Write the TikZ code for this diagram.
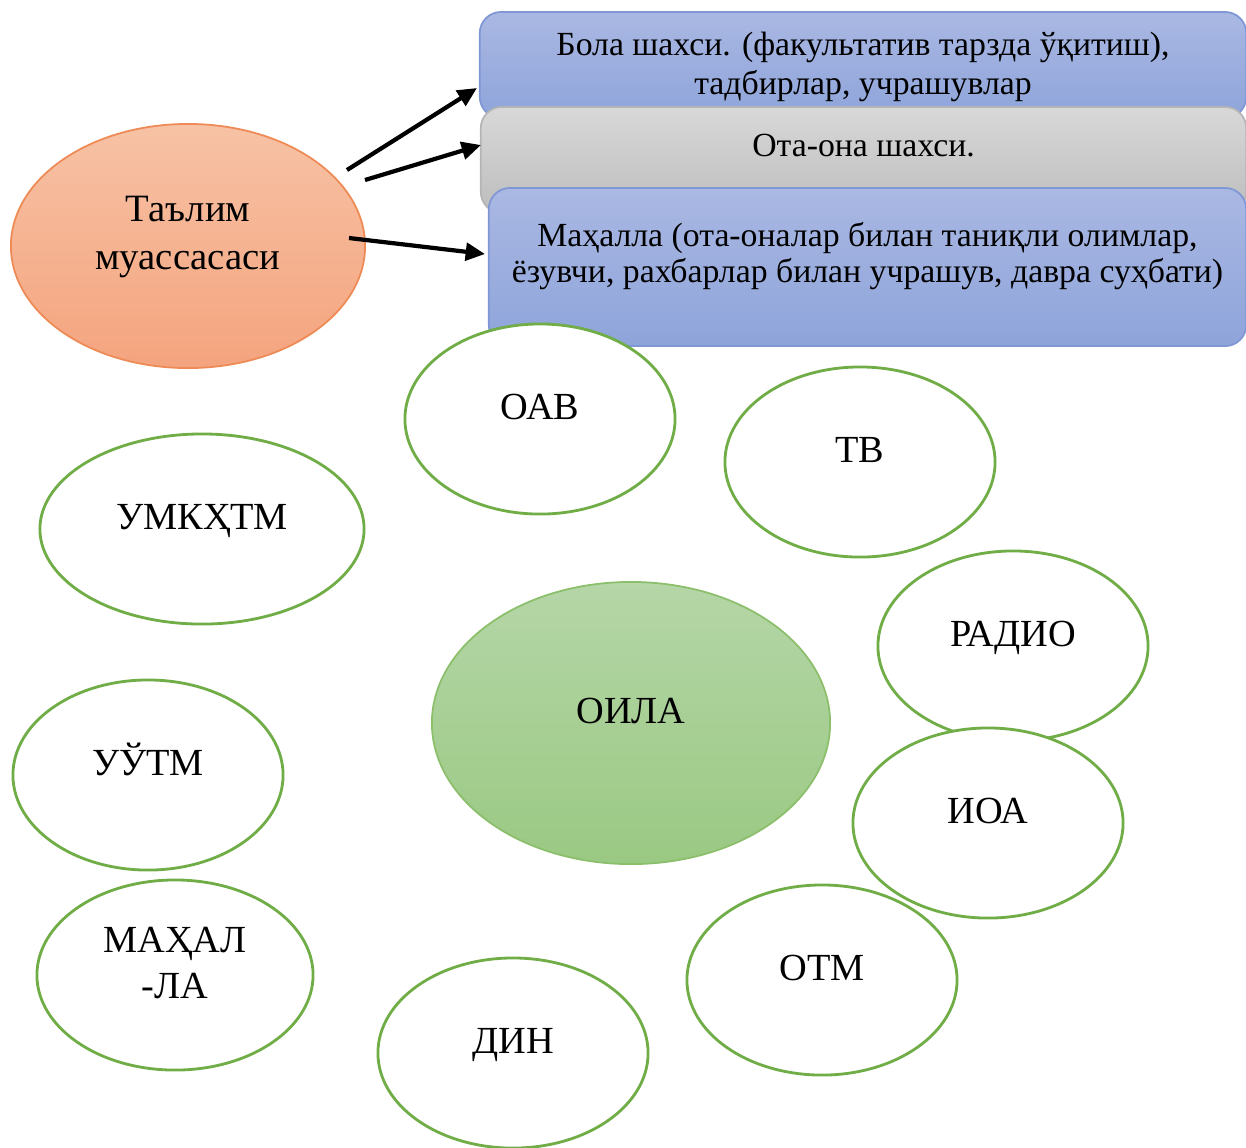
\documentclass[tikz,border=0pt]{standalone}
\usepackage{fontspec}
\setmainfont{Liberation Serif}
\usetikzlibrary{shapes.geometric,arrows.meta}
\definecolor{grn}{HTML}{70AD47}
\definecolor{blueT}{HTML}{AAB8E3}
\definecolor{blueB}{HTML}{8EA4DA}
\definecolor{blueEdge}{HTML}{7F97D4}
\definecolor{grayT}{HTML}{D8D8D8}
\definecolor{grayB}{HTML}{BDBDBD}
\definecolor{grayEdge}{HTML}{B5B5B5}
\definecolor{orT}{HTML}{F7C2A5}
\definecolor{orB}{HTML}{F4A47E}
\definecolor{orEdge}{HTML}{EE8A55}
\definecolor{olT}{HTML}{B5D6A7}
\definecolor{olB}{HTML}{9AC983}
\definecolor{olEdge}{HTML}{8CBF6B}
\newcommand\mylines[2]{\raisebox{#1}[0pt][0pt]{\begin{tabular}[t]{@{}c@{}}#2\end{tabular}}}
\begin{document}
\begin{tikzpicture}[x=0.01cm,y=-0.01cm,
  oval/.style={ellipse, draw=grn, line width=0.8pt, fill=white, inner sep=0pt,
    minimum width=2.7cm, minimum height=1.9cm, font=\fontsize{10.9}{13}\selectfont},
  bluebox/.style={rectangle, rounded corners=6pt, draw=blueEdge, line width=0.5pt,
    top color=blueT, bottom color=blueB, inner sep=0pt},
  graybox/.style={rectangle, rounded corners=6pt, draw=grayEdge, line width=0.5pt,
    top color=grayT, bottom color=grayB, inner sep=0pt},
  arr/.style={line width=1.2pt, -{Triangle[length=5.5pt,width=5pt]}}]
\useasboundingbox (0,0) rectangle (1246,1147);

% boxes
\node[bluebox, minimum width=7.66cm, minimum height=1.06cm,
  font=\fontsize{9.6}{11.2}\selectfont] (b1) at (863,65)
  {\mylines{0.1cm}{Бола шахси. (факультатив тарзда ўқитиш),\\тадбирлар, учрашувлар}};
\node[graybox, minimum width=7.65cm, minimum height=1.06cm,
  font=\fontsize{9.6}{11}\selectfont] (b2) at (863.5,160)
  {\mylines{0.04cm}{Ота-она шахси.}};
\node[bluebox, minimum width=7.57cm, minimum height=1.58cm,
  font=\fontsize{9.6}{10.4}\selectfont] (b3) at (867.5,267)
  {\mylines{0.21cm}{Маҳалла (ота-оналар билан таниқли олимлар,\\ёзувчи, рахбарлар билан учрашув, давра суҳбати)}};

% institution ellipse
\node[ellipse, draw=orEdge, line width=0.5pt, top color=orT, bottom color=orB,
  inner sep=0pt, minimum width=3.54cm, minimum height=2.44cm,
  font=\fontsize{11}{13.7}\selectfont] (tm) at (188,246)
  {\mylines{0.25cm}{Таълим\\муассасаси}};

% arrows
\coordinate (s1) at (347,170);
\coordinate (e1) at (477,88);
\coordinate (s2) at (365,180);
\coordinate (e2) at (481,145);
\coordinate (s3) at (349,238);
\coordinate (e3) at (485,254);
\draw[arr] (s1) -- (e1);
\draw[arr] (s2) -- (e2);
\draw[arr] (s3) -- (e3);

% small ellipses
\node[oval] (oav) at (540,419) {\smash{ОАВ}};
\node[oval] (tv) at (860,462) {\smash{ТВ}};
\node[oval, minimum width=3.24cm] (umk) at (202,529) {\smash{УМКҲТМ}};
\node[oval] (radio) at (1013,646) {\smash{РАДИО}};
\node[oval] (uutm) at (148,775) {\smash{УЎТМ}};
\node[oval] (otm) at (822,980) {\smash{ОТМ}};
\node[oval] (ioa) at (988,823) {\smash{ИОА}};
\node[oval, minimum width=2.76cm, font=\fontsize{10.9}{13.2}\selectfont] (mah) at (175,975)
  {\mylines{0.23cm}{МАҲАЛ\\-ЛА}};
\node[oval] (din) at (513,1053) {\smash{ДИН}};

% family
\node[ellipse, draw=olEdge, line width=0.5pt, top color=olT, bottom color=olB,
  inner sep=0pt, minimum width=3.98cm, minimum height=2.82cm,
  font=\fontsize{10.9}{13}\selectfont] (oila) at (631,723) {\smash{ОИЛА}};
\end{tikzpicture}
\end{document}
